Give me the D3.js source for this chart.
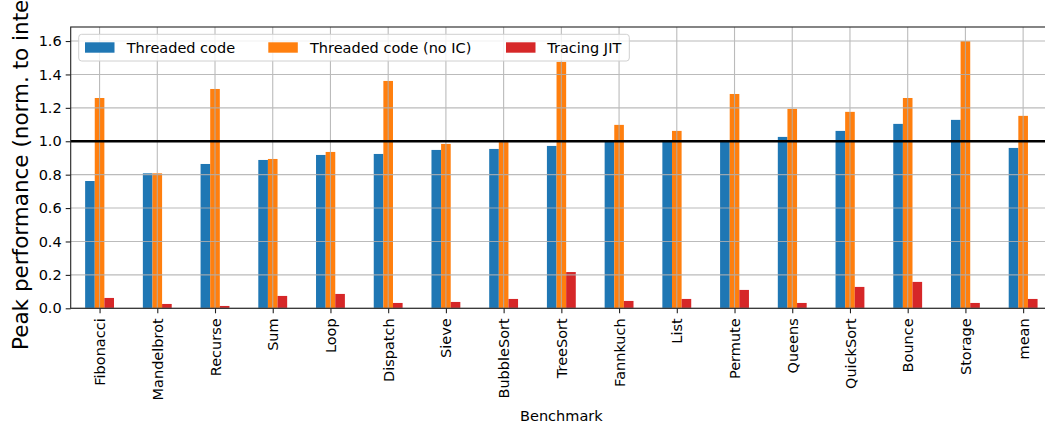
<!DOCTYPE html>
<html>
<head>
<meta charset="utf-8">
<script src="https://cdn.jsdelivr.net/npm/d3@7"></script>
<style>
  html, body { margin: 0; padding: 0; background: #fff; }
  svg { display: block; font-family: "DejaVu Sans", sans-serif; }
</style>
</head>
<body>
<svg id="chart" width="1045" height="426"></svg>
<script>
const categories = ["Fibonacci", "Mandelbrot", "Recurse", "Sum", "Loop", "Dispatch", "Sieve", "BubbleSort",
  "TreeSort", "Fannkuch", "List", "Permute", "Queens", "QuickSort", "Bounce", "Storage", "mean"];
const threaded = [0.762, 0.808, 0.864, 0.888, 0.918, 0.924, 0.948, 0.954, 0.972, 1.0, 1.0, 1.0, 1.026, 1.062, 1.104, 1.128, 0.96];
const threadedNoIC = [1.259, 0.808, 1.313, 0.894, 0.936, 1.361, 0.984, 0.995, 1.475, 1.098, 1.062, 1.283, 1.194, 1.176, 1.259, 1.599, 1.152];
const tracingJIT = [0.062, 0.026, 0.014, 0.074, 0.086, 0.032, 0.038, 0.056, 0.217, 0.044, 0.056, 0.110, 0.032, 0.128, 0.158, 0.032, 0.056];
const seriesNames = ["Threaded code", "Threaded code (no IC)", "Tracing JIT"];
const seriesColors = ["#1f77b4", "#ff7f0e", "#d62728"];
const yTicks = [0.0, 0.2, 0.4, 0.6, 0.8, 1.0, 1.2, 1.4, 1.6];
const referenceLine = 1.0;
const yLabel = "Peak performance (norm. to interpreter)";
const xLabel = "Benchmark";

const series = [threaded, threadedNoIC, tracingJIT];
const svg = d3.select("#chart");
const L = 70.7, R = 1052, T = 27, B = 308.3;
const n = categories.length;
const x = d3.scaleLinear().domain([-0.5, n - 0.5]).range([L, R]);
const y = d3.scaleLinear().domain([0, 1.684]).range([B, T]);
const totalW = 0.5, bw = totalW / 3;

// bars
series.forEach((vals, s) => {
  svg.append("g").selectAll("rect").data(vals).join("rect")
    .attr("x", (d, i) => x(i - totalW / 2 + s * bw))
    .attr("width", x(bw) - x(0))
    .attr("y", d => y(d))
    .attr("height", d => y(0) - y(d))
    .attr("fill", seriesColors[s]);
});

// grid
const grid = svg.append("g").attr("stroke", "#b0b0b0").attr("stroke-width", 1.1).attr("opacity", 0.85);
grid.selectAll("line.h").data(yTicks).join("line").attr("class", "h")
  .attr("x1", L).attr("x2", R).attr("y1", d => y(d)).attr("y2", d => y(d));
grid.selectAll("line.v").data(categories).join("line").attr("class", "v")
  .attr("x1", (d, i) => x(i)).attr("x2", (d, i) => x(i)).attr("y1", T).attr("y2", B);

// reference line
svg.append("line").attr("x1", L).attr("x2", R).attr("y1", y(referenceLine)).attr("y2", y(referenceLine))
  .attr("stroke", "#000").attr("stroke-width", 2.6);

// axes
const yAxis = d3.axisLeft(y).tickValues(yTicks).tickFormat(d3.format(".1f")).tickSize(5).tickPadding(4);
const gy = svg.append("g").attr("transform", `translate(${L},0)`).call(yAxis);
gy.select(".domain").remove();
gy.selectAll(".tick line").attr("stroke", "#222").attr("stroke-width", 1.1);
gy.selectAll(".tick text").attr("font-size", "14.5px").attr("fill", "#000").attr("font-family", "DejaVu Sans");

const xAxis = d3.axisBottom(x).tickValues(d3.range(n)).tickFormat(i => categories[i]).tickSize(5);
const gx = svg.append("g").attr("transform", `translate(0,${B})`).call(xAxis);
gx.select(".domain").remove();
gx.selectAll(".tick line").attr("stroke", "#222").attr("stroke-width", 1.1);
gx.selectAll(".tick text")
  .attr("font-size", "14.5px").attr("fill", "#000").attr("font-family", "DejaVu Sans")
  .attr("text-anchor", "end")
  .attr("transform", "rotate(-90)")
  .attr("x", -10).attr("y", 0).attr("dy", "0.35em");

// spines
svg.append("rect").attr("x", L).attr("y", T).attr("width", R - L).attr("height", B - T)
  .attr("fill", "none").attr("stroke", "#222").attr("stroke-width", 1.1);

// labels
svg.append("text").attr("x", (L + R) / 2).attr("y", 421).attr("text-anchor", "middle")
  .attr("font-size", "14.5px").text(xLabel);
svg.append("text").attr("transform", "translate(28.3,350) rotate(-90)").attr("text-anchor", "start")
  .attr("font-size", "21.5px").text(yLabel);

// legend
const lg = svg.append("g");
lg.append("rect").attr("x", 78.7).attr("y", 34.3).attr("width", 550.6).attr("height", 26.7)
  .attr("rx", 3).attr("fill", "#fff").attr("fill-opacity", 0.8).attr("stroke", "#d0d0d0").attr("stroke-width", 1);
const patchX = [85, 268.3, 506];
const textX = [126.7, 310, 547.3];
seriesNames.forEach((name, s) => {
  lg.append("rect").attr("x", patchX[s]).attr("y", 42.3).attr("width", 29.5).attr("height", 10.4)
    .attr("fill", seriesColors[s]);
  lg.append("text").attr("x", textX[s]).attr("y", 52.7).attr("font-size", "14.5px").text(name);
});
</script>
</body>
</html>
